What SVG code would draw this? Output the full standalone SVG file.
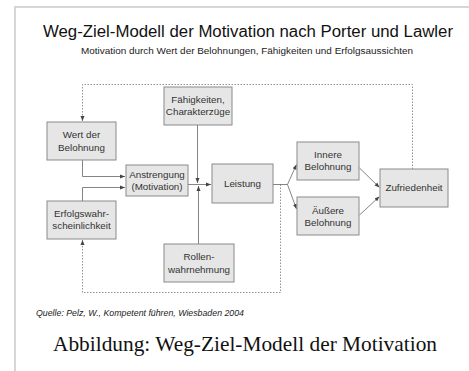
<svg xmlns="http://www.w3.org/2000/svg" width="469" height="371" viewBox="0 0 469 371">
<style>
.box{fill:#e6e6e6;stroke:#8a8a8a;stroke-width:1}
.lbl{font-family:"Liberation Sans",Arial,sans-serif;font-size:9.8px;fill:#333;text-anchor:middle}
.ln{fill:none;stroke:#666;stroke-width:0.8}
.dt{fill:none;stroke:#777;stroke-width:0.8;stroke-dasharray:1.5,1.5}
</style>
<defs>
<marker id="a" viewBox="0 0 10 10" refX="10" refY="5" markerWidth="5" markerHeight="5" orient="auto" markerUnits="userSpaceOnUse">
<path d="M0,1 L10,5 L0,9 z" fill="#444"/>
</marker>
</defs>
<rect width="469" height="371" fill="#fff"/>
<path d="M15,371 V7 H469" fill="none" stroke="#d6d6d6" stroke-width="2"/>
<text x="248" y="37" font-family="'Liberation Sans',Arial,sans-serif" font-size="16" fill="#111" text-anchor="middle" textLength="410" lengthAdjust="spacingAndGlyphs">Weg-Ziel-Modell der Motivation nach Porter und Lawler</text>
<text x="247" y="54" font-family="'Liberation Sans',Arial,sans-serif" font-size="9.6" fill="#222" text-anchor="middle" textLength="332" lengthAdjust="spacingAndGlyphs">Motivation durch Wert der Belohnungen, Fähigkeiten und Erfolgsaussichten</text>
<g id="connectors">
<path class="dt" d="M412.5,169 V84.5 H82.5 V121" marker-end="url(#a)"/>
<path class="dt" d="M280.5,184.5 V292.5 H82.5 V240" marker-end="url(#a)"/>
<path class="ln" d="M82.5,160 V176.5 H125" marker-end="url(#a)"/>
<path class="ln" d="M82.5,201 V187.5 H125" marker-end="url(#a)"/>
<path class="ln" d="M188,184.5 H211" marker-end="url(#a)"/>
<path class="ln" d="M197.5,125 V183" marker-end="url(#a)"/>
<path class="ln" d="M198.5,244 V186" marker-end="url(#a)"/>
<path class="ln" d="M273,184.5 H287.5"/>
<path class="ln" d="M287.5,184.5 L296.5,164.5" marker-end="url(#a)"/>
<path class="ln" d="M287.5,184.5 L296.5,209" marker-end="url(#a)"/>
<path class="ln" d="M359.5,168 L379.5,187.5" marker-end="url(#a)"/>
<path class="ln" d="M359.5,215 L379.5,196.5" marker-end="url(#a)"/>
</g>
<g id="wert"><rect class="box" x="47" y="122" width="69" height="38"/><text class="lbl" x="81.5" y="138">Wert der</text><text class="lbl" x="81.5" y="150.5">Belohnung</text></g>
<g id="anstrengung"><rect class="box" x="126" y="165" width="62" height="31"/><text class="lbl" x="157" y="178">Anstrengung</text><text class="lbl" x="157" y="190">(Motivation)</text></g>
<g id="faehigkeiten"><rect class="box" x="164" y="87" width="68" height="38"/><text class="lbl" x="198" y="103">Fähigkeiten,</text><text class="lbl" x="198" y="115">Charakterzüge</text></g>
<g id="leistung"><rect class="box" x="212" y="164" width="61" height="39"/><text class="lbl" x="242.5" y="187">Leistung</text></g>
<g id="erfolg"><rect class="box" x="47" y="201" width="69" height="38"/><text class="lbl" x="81.5" y="217">Erfolgswahr-</text><text class="lbl" x="81.5" y="229">scheinlichkeit</text></g>
<g id="rollen"><rect class="box" x="164" y="244" width="70" height="38"/><text class="lbl" x="199" y="260">Rollen-</text><text class="lbl" x="199" y="272.5">wahrnehmung</text></g>
<g id="innere"><rect class="box" x="297" y="142" width="62" height="38"/><text class="lbl" x="328" y="158">Innere</text><text class="lbl" x="328" y="170">Belohnung</text></g>
<g id="aeussere"><rect class="box" x="297" y="197" width="62" height="38"/><text class="lbl" x="328" y="213.5">Äußere</text><text class="lbl" x="328" y="225.5">Belohnung</text></g>
<g id="zufriedenheit"><rect class="box" x="380" y="169" width="68" height="38"/><text class="lbl" x="414" y="191">Zufriedenheit</text></g>
<text x="36" y="316" font-family="'Liberation Sans',Arial,sans-serif" font-size="8.6" font-style="italic" fill="#222" textLength="208" lengthAdjust="spacingAndGlyphs">Quelle: Pelz, W., Kompetent führen, Wiesbaden 2004</text>
<text x="245" y="351" font-family="'Liberation Serif','Times New Roman',serif" font-size="21.4" fill="#111" text-anchor="middle" textLength="384" lengthAdjust="spacingAndGlyphs">Abbildung: Weg-Ziel-Modell der Motivation</text>
</svg>
